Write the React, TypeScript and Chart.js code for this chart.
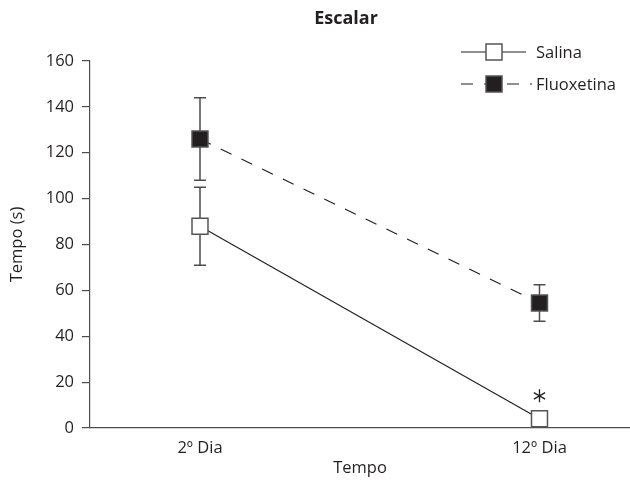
import React, { useEffect, useRef } from 'react';
import { Chart, registerables } from 'chart.js';
Chart.register(...registerables);

const categories = ['2º Dia', '12º Dia'];
const salina = [88, 4];
const salinaErr = [17, 0];
const fluoxetina = [126, 54.5];
const fluoxetinaErr = [18, 8];
const significance = ['', '*'];
const yMax = 160;
const yStep = 20;
const titleText = 'Escalar';

const FONT = "'Open Sans', 'Noto Sans', sans-serif";
const TEXT = '#231f20';
const AXIS = '#4d4d4d';
const FS = 16.5;

export default function App() {
  const ref = useRef<HTMLCanvasElement>(null);
  useEffect(() => {
    document.body.style.margin = '0';
    document.body.style.overflow = 'hidden';
    const errs = [salinaErr, fluoxetinaErr];
    const extras = {
      id: 'extras',
      beforeDatasetsDraw(chart: any) {
        const { ctx } = chart;
        const x = chart.scales.x;
        const y = chart.scales.y;
        ctx.save();
        ctx.strokeStyle = AXIS;
        ctx.lineWidth = 1.5;
        chart.data.datasets.forEach((ds: any, di: number) => {
          ds.data.forEach((p: any, i: number) => {
            const e = errs[di][i];
            if (!e) return;
            const px = x.getPixelForValue(p.x);
            const top = y.getPixelForValue(p.y + e);
            const bot = y.getPixelForValue(p.y - e);
            ctx.beginPath();
            ctx.moveTo(px, top); ctx.lineTo(px, bot);
            ctx.moveTo(px - 6, top); ctx.lineTo(px + 6, top);
            ctx.moveTo(px - 6, bot); ctx.lineTo(px + 6, bot);
            ctx.stroke();
          });
        });
        ctx.restore();
      },
      afterDraw(chart: any) {
        const { ctx } = chart;
        const x = chart.scales.x;
        const y = chart.scales.y;
        ctx.save();
        // title
        ctx.fillStyle = TEXT;
        ctx.font = `bold 18px ${FONT}`;
        ctx.textAlign = 'center';
        ctx.textBaseline = 'middle';
        ctx.fillText(titleText, 346, 19);
        // significance asterisk
        significance.forEach((s, i) => {
          if (!s) return;
          const px = x.getPixelForValue(i + 1);
          const py = y.getPixelForValue(salina[i]) - 23;
          ctx.strokeStyle = TEXT;
          ctx.lineWidth = 1.3;
          const r = 6.5;
          ctx.beginPath();
          [90, 30, 150].forEach((deg) => {
            const a = (deg * Math.PI) / 180;
            ctx.moveTo(px - r * Math.cos(a), py - r * Math.sin(a));
            ctx.lineTo(px + r * Math.cos(a), py + r * Math.sin(a));
          });
          ctx.stroke();
        });
        // legend
        chart.data.datasets.forEach((ds: any, di: number) => {
          const ly = 52 + di * 32;
          ctx.strokeStyle = ds.borderColor;
          ctx.lineWidth = 1.2;
          ctx.setLineDash(ds.borderDash || []);
          ctx.beginPath();
          ctx.moveTo(461, ly); ctx.lineTo(ds.borderDash ? 532 : 526, ly);
          ctx.stroke();
          ctx.setLineDash([]);
          ctx.fillStyle = ds.pointBackgroundColor;
          ctx.strokeStyle = ds.pointBorderColor;
          ctx.lineWidth = 1.5;
          ctx.fillRect(486, ly - 8, 16, 16);
          ctx.strokeRect(486, ly - 8, 16, 16);
          ctx.fillStyle = TEXT;
          ctx.font = `${FS}px ${FONT}`;
          ctx.textBaseline = 'middle';
          ctx.textAlign = 'left';
          ctx.fillText(ds.label, 536, ly + 1);
        });
        ctx.restore();
      },
    };
    const chart = new Chart(ref.current!, {
      type: 'line',
      data: {
        datasets: [
          {
            label: 'Salina',
            data: salina.map((v, i) => ({ x: i + 1, y: v })),
            borderColor: '#231f20',
            borderWidth: 1.2,
            pointStyle: 'rect',
            pointRadius: 11.3,
            pointBackgroundColor: '#ffffff',
            pointBorderColor: '#555555',
            pointBorderWidth: 1.5,
            fill: false,
            clip: false,
          },
          {
            label: 'Fluoxetina',
            data: fluoxetina.map((v, i) => ({ x: i + 1, y: v })),
            borderColor: '#231f20',
            borderWidth: 1.2,
            borderDash: [12, 11],
            pointStyle: 'rect',
            pointRadius: 11.3,
            pointBackgroundColor: '#231f20',
            pointBorderColor: '#555555',
            pointBorderWidth: 1.5,
            fill: false,
            clip: false,
          },
        ],
      },
      options: {
        animation: false,
        responsive: false,
        layout: { autoPadding: false, padding: { left: 0, right: 0, top: 61, bottom: 0 } },
        plugins: {
          legend: { display: false },
          tooltip: { enabled: false },
          title: { display: false },
        },
        scales: {
          x: {
            type: 'linear',
            min: 0.676,
            max: 2.2666,
            afterBuildTicks: (scale: any) => {
              scale.ticks = categories.map((_, i) => ({ value: i + 1 }));
            },
            afterFit: (scale: any) => {
              scale.height = 55;
              scale.paddingLeft = 0;
              scale.paddingRight = 0;
            },
            ticks: {
              callback: (v: any) => categories[Number(v) - 1] ?? '',
              color: TEXT,
              font: { family: FONT, size: FS },
              padding: 10,
              maxRotation: 0,
              autoSkip: false,
            },
            grid: { display: false, drawTicks: false },
            border: { display: true, color: AXIS, width: 1.2 },
            title: {
              display: true,
              text: 'Tempo',
              color: TEXT,
              font: { family: FONT, size: FS },
              padding: { top: 0, bottom: 5 },
            },
          },
          y: {
            min: 0,
            max: yMax,
            afterFit: (scale: any) => { scale.width = 90; },
            ticks: {
              stepSize: yStep,
              color: TEXT,
              font: { family: FONT, size: FS },
              padding: 8,
            },
            grid: { display: true, drawOnChartArea: false, drawTicks: true, tickLength: 8, color: AXIS, lineWidth: 1.2 },
            border: { display: true, color: AXIS, width: 1.2 },
            title: {
              display: true,
              text: 'Tempo (s)',
              color: TEXT,
              font: { family: FONT, size: FS },
              padding: { top: 7, bottom: 0 },
            },
          },
        },
      },
      plugins: [extras],
    } as any);
    return () => chart.destroy();
  }, []);
  return (
    <div style={{ position: 'fixed', left: 0, top: 0, width: 630, height: 483 }}>
      <canvas ref={ref} width={630} height={483} />
    </div>
  );
}
